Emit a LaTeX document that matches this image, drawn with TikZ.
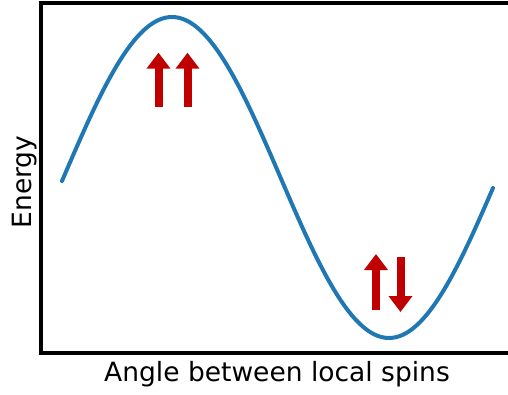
\documentclass[tikz,border=0pt]{standalone}
\usepackage{fontspec}
\setmainfont{DejaVu Sans}
\usetikzlibrary{arrows.meta}
\definecolor{curveblue}{RGB}{31,119,180}
\definecolor{spinred}{RGB}{192,0,0}

\begin{document}
\begin{tikzpicture}[x=1pt,y=-1pt,
  spin/.style={spinred, line width=8pt, -{Triangle[width=23pt,length=16pt]}},
  axislabel/.style={font=\fontsize{26.5}{30}\selectfont, inner sep=0pt, anchor=base}]
  \useasboundingbox (0,0) rectangle (508,395);
  % axes frame
  \draw[line width=3.8pt] (508,2.7) -- (41.3,2.7) -- (41.3,353) -- (508,353);
  % energy curve
  \draw[curveblue, line width=4pt, line cap=round]
    plot[domain=62:493, samples=150] (\x,{177.5-160.5*cos((\x-172)/217*180)});
  % spins at the top
  \coordinate (upAtail) at (158.5,106.7);
  \coordinate (upAtip) at (158.5,52.7);
  \coordinate (upBtail) at (187.5,106.7);
  \coordinate (upBtip) at (187.5,52.7);
  \draw[spin] (upAtail) -- (upAtip);
  \draw[spin] (upBtail) -- (upBtip);
  % spins at the bottom
  \coordinate (upCtail) at (376,310);
  \coordinate (upCtip) at (376,254);
  \coordinate (downtail) at (400.5,257);
  \coordinate (downtip) at (400.5,312);
  \draw[spin] (upCtail) -- (upCtip);
  \draw[spin] (downtail) -- (downtip);
  % labels
  \node[axislabel] (xlab) at (277,381.7) {Angle between local spins};
  \node[axislabel, rotate=90] (ylab) at (31.1,182) {Energy};
\end{tikzpicture}
\end{document}
